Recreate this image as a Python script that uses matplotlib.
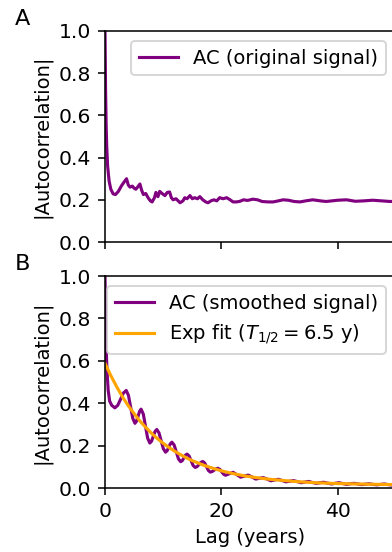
import numpy as np
import matplotlib
matplotlib.use('Agg')
import matplotlib.pyplot as plt

# panel A: autocorrelation of the original signal
lag_a = [0, 0.1, 0.2, 0.3, 0.45, 0.7, 1.0, 1.4, 1.8, 2.3, 2.8, 3.3, 3.7, 4.0, 4.3,
         4.7, 5.0, 5.3, 5.6, 6.0, 6.3, 6.6, 7.0, 7.4, 7.8, 8.1, 8.5, 8.75, 9.1, 9.4,
         9.8, 10.3, 10.7, 11.1, 11.4, 11.7, 12.2, 12.9, 13.4, 13.7, 14.1, 14.6, 15.0,
         15.4, 15.9, 16.3, 16.8, 17.3, 17.7, 18.2, 18.7, 19.2, 19.7, 20.3, 20.9, 21.5,
         22.0, 22.6, 23.2, 23.8, 24.5, 25.4, 26.2, 27.0, 28.0, 28.9, 29.8, 30.6, 31.5,
         32.5, 33.5, 34.5, 35.7, 37.0, 38.0, 39.0, 40.0, 41.5, 43.0, 44.5, 46.0, 47.5,
         49.0, 50.0]
ac_a = [1.0, 0.72, 0.55, 0.45, 0.36, 0.29, 0.25, 0.228, 0.225, 0.24, 0.265, 0.285, 0.30,
        0.27, 0.26, 0.265, 0.255, 0.25, 0.26, 0.275, 0.245, 0.225, 0.23, 0.21, 0.195,
        0.19, 0.21, 0.235, 0.215, 0.24, 0.23, 0.22, 0.235, 0.237, 0.21, 0.2, 0.205,
        0.186, 0.195, 0.21, 0.205, 0.22, 0.205, 0.21, 0.205, 0.215, 0.2, 0.19, 0.186,
        0.195, 0.2, 0.195, 0.21, 0.205, 0.21, 0.2, 0.19, 0.19, 0.193, 0.2, 0.197, 0.203,
        0.2, 0.192, 0.19, 0.19, 0.195, 0.2, 0.198, 0.192, 0.19, 0.195, 0.2, 0.195, 0.192,
        0.195, 0.198, 0.2, 0.193, 0.195, 0.198, 0.195, 0.192, 0.193]

# panel B: autocorrelation of the smoothed signal
lag_b = [0, 0.1, 0.2, 0.35, 0.55, 0.8, 1.15, 1.7,
         2.19, 2.68, 3.16, 3.65, 4.03, 4.4, 4.78, 5.15, 5.41, 5.68, 5.94, 6.2,
         6.58, 6.95, 7.33, 7.7, 8.0, 8.3, 8.6, 8.9, 9.28, 9.65, 10.03, 10.4,
         10.68, 10.95, 11.23, 11.5, 11.88, 12.25, 12.63, 13.0, 13.28, 13.55, 13.83, 14.1,
         14.45, 14.8, 15.15, 15.5, 15.83, 16.15, 16.48, 16.8, 17.13, 17.45, 17.78, 18.1,
         18.43, 18.75, 19.08, 19.4, 19.73, 20.05, 20.38, 20.7,
         21.35, 22.0, 22.65, 23.3, 23.95, 24.6, 25.25, 25.9, 26.55, 27.2, 27.85, 28.5,
         29.15, 29.8, 30.45, 31.1, 31.75, 32.4, 33.05, 33.7, 34.35, 35.0, 35.65, 36.3,
         36.95, 37.6, 38.25, 38.9, 39.55, 40.2, 40.85, 41.5, 42.15, 42.8, 43.45, 44.1,
         44.75, 45.4, 46.05, 46.7, 47.35, 48.0, 48.65, 49.3, 50.0]
ac_b = [1.0, 0.80, 0.66, 0.55, 0.46, 0.41, 0.39, 0.378,
        0.390, 0.419, 0.448, 0.46, 0.437, 0.3825, 0.328, 0.305, 0.315, 0.338, 0.362, 0.372,
        0.349, 0.292, 0.235, 0.212, 0.221, 0.244, 0.267, 0.276, 0.260, 0.2225, 0.185, 0.169,
        0.176, 0.1925, 0.209, 0.216, 0.203, 0.170, 0.137, 0.124, 0.129, 0.142, 0.155, 0.160,
        0.151, 0.1285, 0.106, 0.097, 0.101, 0.111, 0.121, 0.125, 0.118, 0.100, 0.082, 0.075,
        0.078, 0.084, 0.090, 0.093, 0.088, 0.0765, 0.065, 0.060,
        0.067, 0.074, 0.063, 0.051, 0.056, 0.061, 0.052, 0.042, 0.046, 0.049, 0.042, 0.034,
        0.038, 0.041, 0.035, 0.029, 0.032, 0.035, 0.030, 0.025, 0.028, 0.031, 0.026, 0.022,
        0.025, 0.027, 0.023, 0.019, 0.022, 0.025, 0.021, 0.017, 0.020, 0.022, 0.019, 0.016,
        0.018, 0.020, 0.017, 0.015, 0.017, 0.019, 0.016, 0.014, 0.016]

# exponential fit
lag_fit = [0, 1, 2, 3, 4, 5, 6, 7, 8, 9, 10, 11, 12, 13, 14, 15, 16, 17, 18, 19, 20,
           22, 24, 26, 28, 30, 33, 36, 40, 45, 50]
fit_b = [0.588, 0.530, 0.478, 0.430, 0.388, 0.351, 0.316, 0.286, 0.258, 0.233, 0.211,
         0.191, 0.173, 0.157, 0.142, 0.129, 0.118, 0.107, 0.098, 0.089, 0.081,
         0.068, 0.057, 0.049, 0.042, 0.037, 0.030, 0.025, 0.021, 0.018, 0.016]

yticks = [0.0, 0.2, 0.4, 0.6, 0.8, 1.0]
xticks = [0, 20, 40]

plt.rcParams['xtick.labelsize'] = 10.5
plt.rcParams['ytick.labelsize'] = 10.5

dpi = 140
fig = plt.figure(figsize=(392 / dpi, 552 / dpi), dpi=dpi)
W, H = 392.0, 552.0
left = 105 / W
width = (396 - 105) / W
ax1 = fig.add_axes([left, 1 - 242 / H, width, (242 - 31) / H])
ax2 = fig.add_axes([left, 1 - 488 / H, width, (488 - 276) / H], sharex=ax1)

ax1.plot(lag_a, ac_a, color='purple', lw=1.6, label='AC (original signal)')
ax2.plot(lag_b, ac_b, color='purple', lw=1.6, label='AC (smoothed signal)')
ax2.plot(lag_fit, fit_b, color='orange', lw=1.6, label=r'Exp fit ($T_{1/2} = 6.5$ y)')

for ax in (ax1, ax2):
    ax.set_ylim(0, 1)
    ax.set_yticks(yticks)
    ax.set_ylabel('|Autocorrelation|', fontsize=10)
    ax.legend(loc='upper right', fontsize=10)
ax1.set_xlim(0, 50)
ax1.set_xticks(xticks)
plt.setp(ax1.get_xticklabels(), visible=False)
ax2.set_xlabel('Lag (years)', fontsize=10)

fig.text(15 / W, 1 - 25 / H, 'A', fontsize=11.5, va='baseline')
fig.text(15 / W, 1 - 270 / H, 'B', fontsize=11.5, va='baseline')

fig.savefig('out.png', dpi=dpi)
